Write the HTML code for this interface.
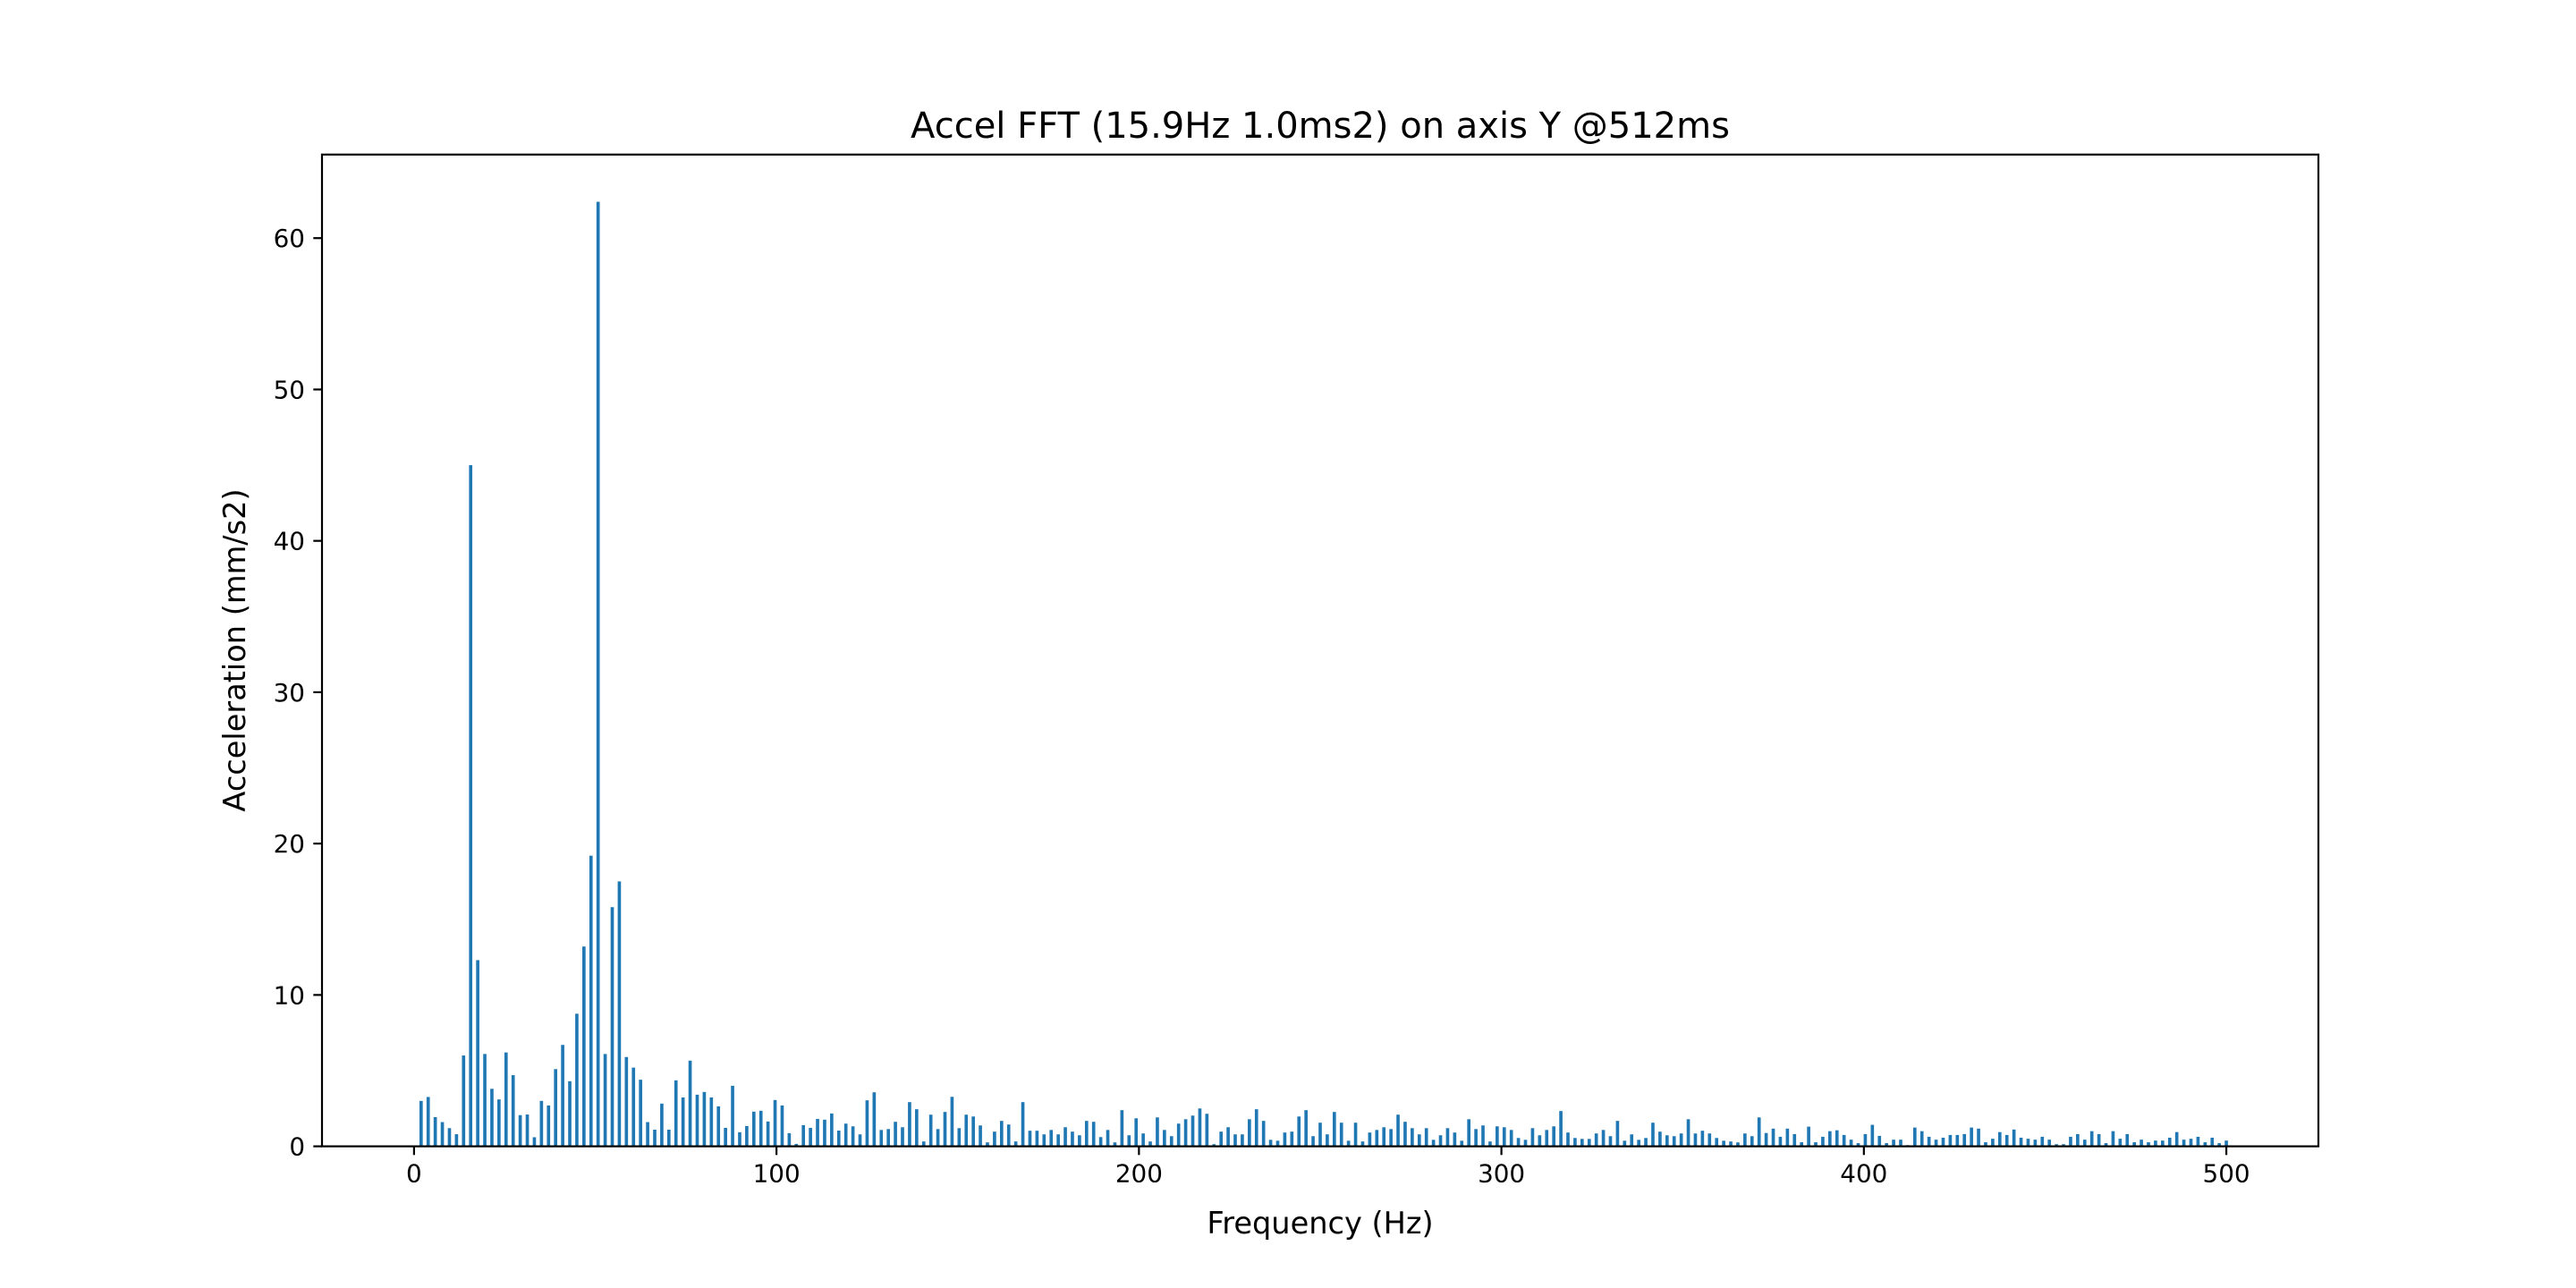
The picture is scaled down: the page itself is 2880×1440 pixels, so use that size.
<!DOCTYPE html>
<html><head><meta charset="utf-8"><style>
html,body{margin:0;padding:0;background:#fff;}
svg{display:block;font-family:"DejaVu Sans","Liberation Sans",sans-serif;}
</style></head><body>
<svg id="chart" width="2880" height="1440" viewBox="0 0 2880 1440" xmlns="http://www.w3.org/2000/svg">
<rect x="0" y="0" width="2880" height="1440" fill="#fff"/>
<text x="1476" y="154" font-size="40" text-anchor="middle" fill="#000">Accel FFT (15.9Hz 1.0ms2) on axis Y @512ms</text>
<g id="bars"></g>
<g id="xticks"></g>
<g id="yticks"></g>
<rect x="360" y="172.8" width="2232" height="1108.8" fill="none" stroke="#000" stroke-width="2.2"/>
<text x="1476" y="1379" font-size="33.6" text-anchor="middle" fill="#000">Frequency (Hz)</text>
<text x="0" y="0" font-size="33.6" text-anchor="middle" fill="#000" transform="translate(274,727) rotate(-90)">Acceleration (mm/s2)</text>
</svg>
<script>
const binStep = 1000/512;
const amplitudes = [
3.0,3.26,1.93,1.6,1.2,0.8,6.0,45.0,12.3,6.1,3.8,3.1,6.2,4.7,2.06,2.1,0.6,3.0,2.7,5.1,6.7,4.3,8.76,13.2,19.2,62.4,6.1,15.8,17.5,5.9,5.2,4.4,1.6,1.1,2.82,
1.1,4.36,3.23,5.66,3.41,3.59,3.23,2.64,1.22,4.0,0.93,1.34,2.29,2.35,1.64,3.06,2.7,0.87,0.16,1.4,1.22,1.81,1.76,2.17,
1.04,1.5,1.32,0.79,3.04,3.57,1.08,1.14,1.62,1.26,2.92,2.45,0.32,2.09,1.14,2.27,3.27,1.2,2.09,1.97,1.38,0.26,0.97,1.68,1.44,0.32,2.92,1.03,1.03,0.79,1.08,0.79,1.26,0.97,0.73,1.68,1.62,0.61,1.08,0.26,2.39,0.73,1.85,0.85,0.32,1.91,1.08,0.67,1.5,1.79,2.03,2.5,2.15,0.14,0.97,1.26,0.79,0.79,1.79,2.45,1.68,0.43,0.37,0.91,0.97,1.97,
2.39,0.67,1.56,0.79,2.27,1.56,0.37,1.56,0.32,0.91,1.08,1.26,1.14,2.09,1.62,1.2,0.79,1.2,0.43,0.73,1.2,0.91,0.37,1.79,1.14,1.38,0.32,1.32,1.26,1.08,0.55,0.43,1.2,0.73,1.08,1.32,2.33,0.91,0.55,0.49,0.49,0.85,1.08,0.67,1.68,0.37,0.79,0.43,0.55,1.56,0.97,0.73,0.67,0.85,1.79,0.85,1.03,0.85,0.55,0.37,0.32,0.26,0.85,0.67,1.91,
0.88,1.17,0.63,1.17,0.81,0.27,1.3,0.27,0.63,1.0,1.06,0.75,0.44,0.21,0.81,1.42,0.69,0.21,0.44,0.44,0.08,1.24,1.0,0.63,0.44,0.57,0.75,0.75,0.81,1.24,1.17,0.27,0.5,0.94,0.75,1.11,0.57,0.5,0.44,0.63,0.44,0.14,0.14,0.63,0.81,0.44,1.0,0.81,0.21,1.0,0.5,0.81,0.27,0.44,0.27,0.38,0.38,0.57,0.94,0.44,0.5,0.63,0.27,0.57,0.21,0.38
];
const frequencies = amplitudes.map((v,i)=>(i+1)*binStep);
const xTickValues = [0,100,200,300,400,500];
const yTickValues = [0,10,20,30,40,50,60];

const NS = "http://www.w3.org/2000/svg";
const L=360,R=2592,T=172.8,B=1281.6;
const xMin=-25.39,xMax=525.4;
const yMax = Math.max(...amplitudes)*1.05;
const xs = v => L+(v-xMin)/(xMax-xMin)*(R-L);
const ys = v => B-(v/yMax)*(B-T);
const barW = 0.9;

const barsG=document.getElementById('bars');
amplitudes.forEach((v,i)=>{
  const r=document.createElementNS(NS,'rect');
  const x0=xs(frequencies[i]-barW/2), x1=xs(frequencies[i]+barW/2);
  r.setAttribute('x',x0);r.setAttribute('width',x1-x0);
  r.setAttribute('y',ys(v));r.setAttribute('height',B-ys(v));
  r.setAttribute('fill','#1f77b4');
  
  
  barsG.appendChild(r);
});
const xg=document.getElementById('xticks');
xTickValues.forEach(t=>{
  const x=xs(t);
  const l=document.createElementNS(NS,'line');
  l.setAttribute('x1',x);l.setAttribute('x2',x);l.setAttribute('y1',B);l.setAttribute('y2',B+9.7);
  l.setAttribute('stroke','#000');l.setAttribute('stroke-width','2.2');
  
  
  xg.appendChild(l);
  const tx=document.createElementNS(NS,'text');
  tx.setAttribute('x',x);tx.setAttribute('y',B+40);tx.setAttribute('font-size','27.8');tx.setAttribute('text-anchor','middle');
  tx.textContent=t;
  
  
  xg.appendChild(tx);
});
const yg=document.getElementById('yticks');
yTickValues.forEach(t=>{
  const y=ys(t);
  const l=document.createElementNS(NS,'line');
  l.setAttribute('x1',L-9.7);l.setAttribute('x2',L);l.setAttribute('y1',y);l.setAttribute('y2',y);
  l.setAttribute('stroke','#000');l.setAttribute('stroke-width','2.2');
  
  
  yg.appendChild(l);
  const tx=document.createElementNS(NS,'text');
  tx.setAttribute('x',L-19);tx.setAttribute('y',y+10);tx.setAttribute('font-size','27.8');tx.setAttribute('text-anchor','end');
  tx.textContent=t;
  
  
  yg.appendChild(tx);
});
</script>
</body></html>
